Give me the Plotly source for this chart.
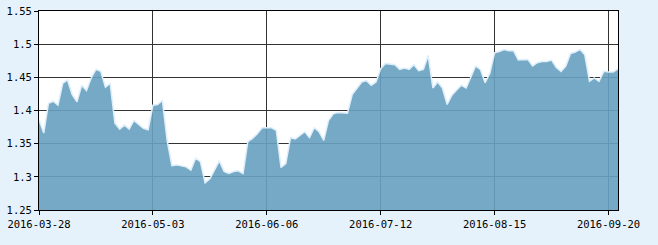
import pandas as pd
import plotly.graph_objects as go

# trading days (China A-share calendar, 2016)
holidays = ["2016-04-04", "2016-05-02", "2016-06-09", "2016-06-10",
            "2016-09-15", "2016-09-16"]
days = [d.strftime("%Y-%m-%d") for d in pd.bdate_range("2016-03-28", "2016-09-22")
        if d.strftime("%Y-%m-%d") not in holidays]

values = [
    1.386, 1.366, 1.411, 1.414, 1.408, 1.441, 1.446, 1.424, 1.413, 1.438,
    1.430, 1.449, 1.462, 1.459, 1.435, 1.441, 1.381, 1.372, 1.378, 1.372,
    1.385, 1.379, 1.373, 1.371, 1.408, 1.409, 1.415, 1.355, 1.317, 1.318,
    1.317, 1.315, 1.310, 1.328, 1.323, 1.291, 1.297, 1.310, 1.324, 1.308,
    1.305, 1.308, 1.309, 1.305, 1.353, 1.358, 1.365, 1.374, 1.374, 1.374,
    1.370, 1.314, 1.320, 1.359, 1.357, 1.363, 1.368, 1.359, 1.374, 1.368,
    1.355, 1.385, 1.395, 1.397, 1.397, 1.396, 1.424, 1.433, 1.443, 1.445,
    1.438, 1.443, 1.463, 1.471, 1.470, 1.469, 1.462, 1.464, 1.462, 1.469,
    1.460, 1.462, 1.483, 1.434, 1.443, 1.434, 1.409, 1.423, 1.431, 1.438,
    1.434, 1.451, 1.467, 1.462, 1.442, 1.456, 1.487, 1.489, 1.492, 1.490,
    1.490, 1.476, 1.476, 1.477, 1.467, 1.472, 1.474, 1.474, 1.476, 1.465,
    1.459, 1.467, 1.486, 1.488, 1.492, 1.484, 1.444, 1.449, 1.444, 1.459,
    1.458, 1.458, 1.463,
]

tick_dates = ["2016-03-28", "2016-05-03", "2016-06-06", "2016-07-12",
              "2016-08-15", "2016-09-20"]
y_ticks = [1.25, 1.3, 1.35, 1.4, 1.45, 1.5, 1.55]
y_labels = ["1.25", "1.3", "1.35", "1.4", "1.45", "1.5", "1.55"]

fig = go.Figure()
fig.add_trace(go.Scatter(
    x=days, y=values, mode="lines", fill="tozeroy",
    fillcolor="rgba(104,160,192,0.91)",
    line=dict(color="rgba(222,238,250,1)", width=1.5),
    hoverinfo="x+y",
))

font = dict(family="DejaVu Sans Mono, monospace", size=10.5, color="#000")
fig.update_layout(
    width=658, height=245,
    margin=dict(l=38.5, r=40, t=10.5, b=35),
    paper_bgcolor="#e6f2fb",
    plot_bgcolor="#ffffff",
    showlegend=False,
    font=font,
)
fig.update_xaxes(
    type="category", range=[0, len(days) - 1], automargin=False,
    tickmode="array", tickvals=tick_dates, ticktext=tick_dates,
    showgrid=True, gridcolor="#333333", gridwidth=1,
    showline=True, linecolor="#000", linewidth=1, mirror=True,
    ticks="outside", ticklen=4, tickcolor="#000",
    tickfont=font, zeroline=False,
)
fig.update_yaxes(
    range=[1.25, 1.55], automargin=False,
    tickmode="array", tickvals=y_ticks, ticktext=y_labels,
    showgrid=True, gridcolor="#333333", gridwidth=1,
    showline=True, linecolor="#000", linewidth=1, mirror=True,
    ticks="outside", ticklen=4, tickcolor="#000",
    tickfont=font, zeroline=False,
)

fig.write_html("out.html")
